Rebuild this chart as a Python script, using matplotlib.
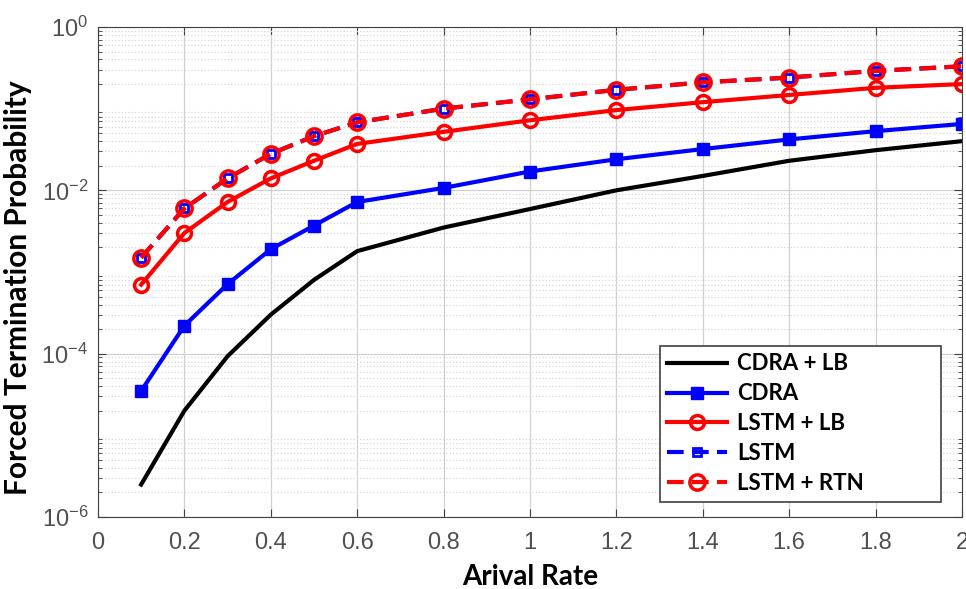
import numpy as np
import matplotlib
matplotlib.use('Agg')
import matplotlib.pyplot as plt
from matplotlib.ticker import LogLocator, NullFormatter

plt.rcParams['font.family'] = 'Liberation Sans'
plt.rcParams['mathtext.fontset'] = 'custom'
plt.rcParams['mathtext.rm'] = 'Liberation Sans'
plt.rcParams['mathtext.it'] = 'Liberation Sans:italic'

# arrival rates
tasa = [0.1, 0.2, 0.3, 0.4, 0.5, 0.6, 0.8, 1.0, 1.2, 1.4, 1.6, 1.8, 2.0]

# forced termination probabilities
cdra_lb = [2.5e-6, 2e-5, 9.3e-5, 3e-4, 8e-4, 1.8e-3, 3.5e-3, 5.9e-3, 1e-2, 1.5e-2, 2.3e-2, 3.1e-2, 4e-2]
cdra = [3.5e-5, 2.2e-4, 7.1e-4, 1.9e-3, 3.7e-3, 7.2e-3, 1.07e-2, 1.7e-2, 2.4e-2, 3.2e-2, 4.2e-2, 5.3e-2, 6.5e-2]
lstm_lb = [7e-4, 3e-3, 7.2e-3, 1.4e-2, 2.3e-2, 3.7e-2, 5.2e-2, 7.2e-2, 9.6e-2, 0.12, 0.147, 0.18, 0.2]
lstm = [1.5e-3, 6e-3, 1.4e-2, 2.8e-2, 4.6e-2, 6.8e-2, 0.1, 0.13, 0.17, 0.21, 0.24, 0.29, 0.33]
lstm_rtn = [1.5e-3, 6e-3, 1.4e-2, 2.8e-2, 4.6e-2, 6.8e-2, 0.1, 0.13, 0.17, 0.21, 0.24, 0.29, 0.33]

xticks = [0, 0.2, 0.4, 0.6, 0.8, 1, 1.2, 1.4, 1.6, 1.8, 2]
xlabels = ['0', '0.2', '0.4', '0.6', '0.8', '1', '1.2', '1.4', '1.6', '1.8', '2']

fig = plt.figure(figsize=(9.66, 5.89), dpi=100)
ax = fig.add_axes([0.1014, 0.1222, 0.8944, 0.832])

ax.plot(tasa, cdra_lb, '-', color='black', lw=3, label='CDRA + LB')
ax.plot(tasa, cdra, '-s', color='blue', lw=3, ms=9, label='CDRA')
ax.plot(tasa, lstm_lb, '-o', color='red', lw=3, ms=10, mfc='none', mew=2.5, label='LSTM + LB')
ax.plot(tasa, lstm, '--s', color='blue', lw=3, ms=6, mfc='none', mew=2, dashes=(4, 2), label='LSTM')
ax.plot(tasa, lstm_rtn, '--o', color='red', lw=3, ms=11, mfc='none', mew=2.5, dashes=(4, 2), label='LSTM + RTN')

ax.set_yscale('log')
ax.set_xlim(0, 2)
ax.set_ylim(1e-6, 1)
ax.set_yticks([1e-6, 1e-4, 1e-2, 1])
ax.yaxis.set_minor_locator(LogLocator(base=10, subs=np.arange(2, 10), numticks=20))
ax.yaxis.set_minor_formatter(NullFormatter())
ax.set_xticks(xticks)
ax.set_xticklabels(xlabels)

ax.grid(True, which='major', color='#d0d0d0', lw=0.9, ls='-')
ax.grid(True, which='minor', axis='y', color='#d8d8d8', lw=0.9, ls=':')
ax.tick_params(which='both', direction='in', top=True, right=True, colors='#404040',
               labelcolor='#505050', labelsize=17)
ax.tick_params(which='major', length=6)
ax.tick_params(which='minor', length=3)
ax.tick_params(axis='x', which='major', pad=11)
ax.tick_params(axis='y', which='major', pad=7)
for s in ax.spines.values():
    s.set_color('#404040')

ax.set_xlabel('Arival Rate', fontsize=20, fontweight='bold', family='Lato', labelpad=7)
ax.set_ylabel('Forced Termination Probability', fontsize=21.5, fontweight='bold', family='Lato')
ax.yaxis.set_label_coords(-0.076, 0.469)

leg = ax.legend(loc='lower left', bbox_to_anchor=(0.650, 0.031, 0.326, 0.316), mode='expand',
                borderaxespad=0, fancybox=False, edgecolor='#404040',
                prop={'family': 'Lato', 'weight': 'bold', 'size': 16},
                handlelength=2.7, labelspacing=0.4, borderpad=0.35, handletextpad=0.45, framealpha=1)
leg.get_frame().set_linewidth(1.2)

fig.savefig('out.png', dpi=100)
